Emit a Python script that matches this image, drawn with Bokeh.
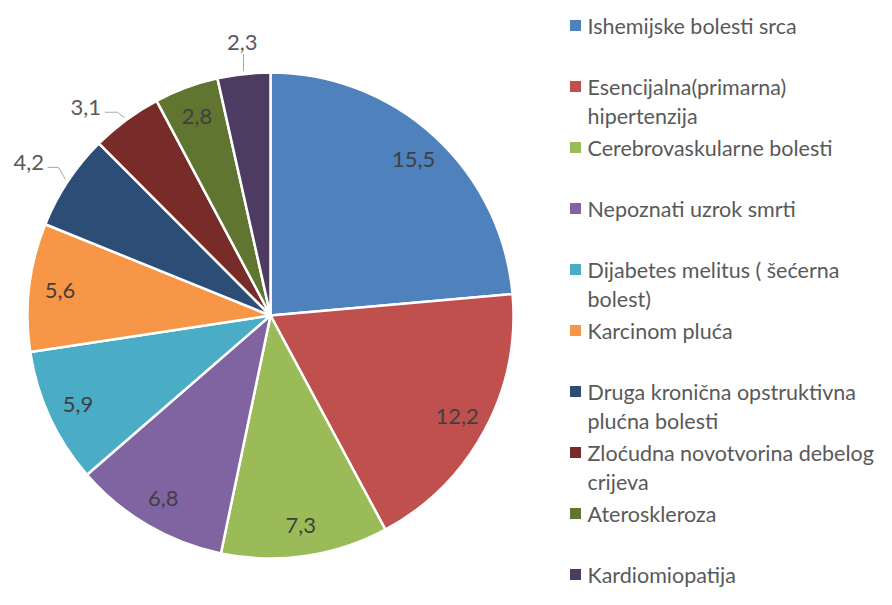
import math
from bokeh.plotting import figure
from bokeh.models import Range1d, ColumnDataSource
from bokeh.core.properties import value
from bokeh.embed import file_html
from bokeh.resources import INLINE

# ---------------- data ----------------
categories = [
    "Ishemijske bolesti srca",
    "Esencijalna(primarna)\nhipertenzija",
    "Cerebrovaskularne bolesti",
    "Nepoznati uzrok smrti",
    "Dijabetes melitus ( šećerna\nbolest)",
    "Karcinom pluća",
    "Druga kronična opstruktivna\nplućna bolesti",
    "Zloćudna novotvorina debelog\ncrijeva",
    "Ateroskleroza",
    "Kardiomiopatija",
]
values = [15.5, 12.2, 7.3, 6.8, 5.9, 5.6, 4.2, 3.1, 2.8, 2.3]
value_labels = ["15,5", "12,2", "7,3", "6,8", "5,9", "5,6", "4,2", "3,1", "2,8", "2,3"]
colors = ["#4F81BD", "#C0504D", "#9BBB59", "#8064A2", "#4BACC6",
          "#F79646", "#2C4D75", "#772C2A", "#5F7530", "#4D3B62"]

# ---------------- layout ----------------
W, H = 876, 589
CX, CY, R = 270, 274, 243          # pie centre / radius (screen px)
LABEL_R = 212                      # inside labels radius
FONT = value("Lato")
FS = "22px"
LEG_FS = "21.5px"
# outside labels: index -> (radius, angle offset in degrees, leader kind)
outside = {6: (286, 1.3, "h"), 7: (278, 5.2, "h"), 9: (274, -0.4, "v")}

total = sum(values)
starts, ends, mids = [], [], []
cum = 0.0
for v in values:
    a0 = math.pi / 2 - 2 * math.pi * cum / total
    cum += v
    a1 = math.pi / 2 - 2 * math.pi * cum / total
    starts.append(a0)
    ends.append(a1)
    mids.append((a0 + a1) / 2)

p = figure(width=W, height=H, x_range=Range1d(0, W), y_range=Range1d(0, H),
           output_backend="svg", toolbar_location=None, min_border=0,
           x_axis_location=None, y_axis_location=None)
p.grid.visible = False
p.outline_line_color = None
p.background_fill_color = "white"
p.border_fill_color = "white"

src = ColumnDataSource(dict(start=starts, end=ends, color=colors))
p.wedge(x=CX, y=CY, radius=R, start_angle="start", end_angle="end",
        direction="clock", fill_color="color", line_color="white",
        line_width=2.5, source=src)

# value labels
in_x, in_y, in_t = [], [], []
out_x, out_y, out_t = [], [], []
for i, m in enumerate(mids):
    if i in outside:
        r, dth, kind = outside[i]
        a = m + math.radians(dth)
        tx, ty = CX + r * math.cos(a), CY + r * math.sin(a)
        out_x.append(tx); out_y.append(ty); out_t.append(value_labels[i])
        sx, sy = CX + (R + 3) * math.cos(m), CY + (R + 3) * math.sin(m)
        if kind == "h":
            ly = ty - 4.5
            xs = [sx, sx - 7, tx + 19]
            ys = [sy, ly, ly]
        else:
            xs = [sx, sx]
            ys = [sy, ty - 11]
        p.line(xs, ys, line_color="#A6A6A6", line_width=1)
    else:
        in_x.append(CX + LABEL_R * math.cos(m))
        in_y.append(CY + LABEL_R * math.sin(m))
        in_t.append(value_labels[i])

p.text(x=in_x, y=in_y, text=in_t, text_font=FONT, text_font_size=FS,
       text_color="#404040", text_align="center", text_baseline="middle")
p.text(x=out_x, y=out_y, text=out_t, text_font=FONT, text_font_size=FS,
       text_color="#595959", text_align="center", text_baseline="middle")

# legend
LEG_MX, LEG_TX = 575, 587
LEG_Y0, LEG_STEP, LINE_H = H - 25, 61.0, 29
mk_x, mk_y, tx_x, tx_y, tx_t = [], [], [], [], []
for i, name in enumerate(categories):
    y0 = LEG_Y0 - i * LEG_STEP
    mk_x.append(LEG_MX); mk_y.append(y0)
    for j, line in enumerate(name.split("\n")):
        tx_x.append(LEG_TX); tx_y.append(y0 - j * LINE_H); tx_t.append(line)
p.scatter(x=mk_x, y=mk_y, marker="square", size=11, fill_color=colors,
          line_color=None)
p.text(x=tx_x, y=tx_y, text=tx_t, text_font=FONT, text_font_size=LEG_FS,
       text_color="#595959", text_align="left", text_baseline="middle")

open("out.html", "w").write(file_html(p, INLINE))
